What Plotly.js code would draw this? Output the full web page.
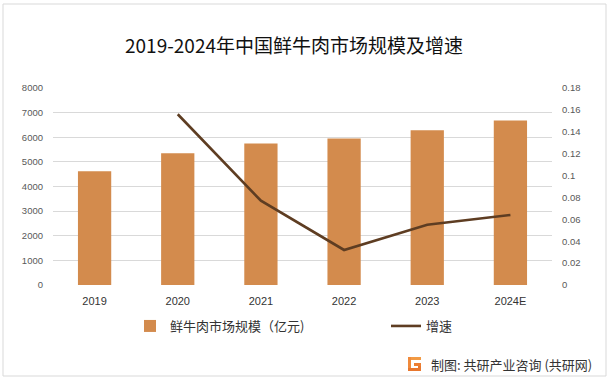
<!DOCTYPE html>
<html>
<head>
<meta charset="utf-8">
<script src="https://cdn.plot.ly/plotly-3.0.1.min.js"></script>
<style>html,body{margin:0;padding:0;background:#fff;}#chart{width:613px;height:386px;}</style>
</head>
<body>
<div id="chart"></div>
<script>
// ---- data ----
var years = ['2019', '2020', '2021', '2022', '2023', '2024E'];
var marketSize = [4620, 5350, 5750, 5950, 6280, 6680];
var growthRate = [null, 0.156, 0.077, 0.032, 0.055, 0.064];
var leftTicks = [0, 1000, 2000, 3000, 4000, 5000, 6000, 7000, 8000];
var rightTicks = [0, 0.02, 0.04, 0.06, 0.08, 0.1, 0.12, 0.14, 0.16, 0.18];
var rightTickLabels = ['0', '0.02', '0.04', '0.06', '0.08', '0.1', '0.12', '0.14', '0.16', '0.18'];
var barName = '鲜牛肉市场规模（亿元)';
var lineName = '增速';
var titleText = '2019-2024年中国鲜牛肉市场规模及增速';
var sourceText = '制图: 共研产业咨询 (共研网)';

// ---- layout helpers (pixel -> paper) ----
var L = 53, R = 552, T = 88, B = 285;
function px(x) { return (x - L) / (R - L); }
function py(y) { return (B - y) / (B - T); }

var cjk = '"Noto Sans CJK SC", "Noto Sans", sans-serif';
var tickFont = '"Liberation Sans", Arial, sans-serif';

var traces = [
  {
    type: 'bar', x: years, y: marketSize, name: barName,
    marker: {color: '#D38B4D'}, yaxis: 'y', legendwidth: 211
  },
  {
    type: 'scatter', mode: 'lines', x: years, y: growthRate, name: lineName,
    line: {color: '#5E3D22', width: 2.6}, yaxis: 'y2', connectgaps: false, legendwidth: 30
  }
];

var G = '#E8772E';
var shapes = [
  {type: 'rect', xref: 'paper', yref: 'paper', x0: px(3), x1: px(606), y0: py(4), y1: py(376),
   line: {color: '#D9D9D9', width: 1}, fillcolor: 'rgba(0,0,0,0)', layer: 'below'},
  // logo "G"
  {type: 'rect', xref: 'paper', yref: 'paper', x0: px(408), x1: px(421), y0: py(357), y1: py(360), line: {width: 0}, fillcolor: '#F29A44'},
  {type: 'rect', xref: 'paper', yref: 'paper', x0: px(408), x1: px(411), y0: py(357), y1: py(371), line: {width: 0}, fillcolor: '#F08A3C'},
  {type: 'rect', xref: 'paper', yref: 'paper', x0: px(408), x1: px(421), y0: py(368), y1: py(371), line: {width: 0}, fillcolor: G},
  {type: 'rect', xref: 'paper', yref: 'paper', x0: px(418), x1: px(421), y0: py(363), y1: py(371), line: {width: 0}, fillcolor: G},
  {type: 'rect', xref: 'paper', yref: 'paper', x0: px(414), x1: px(421), y0: py(363), y1: py(366), line: {width: 0}, fillcolor: '#EC7F34'}
];

var layout = {
  width: 613, height: 386,
  margin: {l: L, r: 613 - R, t: T, b: 386 - B, pad: 0},
  paper_bgcolor: '#ffffff', plot_bgcolor: '#ffffff',
  showlegend: true,
  title: {
    text: titleText, font: {family: cjk, size: 19, color: '#111111'},
    x: 294 / 613, xref: 'container', xanchor: 'center',
    y: 1 - 46.5 / 386, yref: 'container', yanchor: 'middle'
  },
  bargap: 0.6,
  xaxis: {
    type: 'category', showgrid: false, zeroline: false, showline: false,
    ticks: '', tickfont: {family: tickFont, size: 11, color: '#333333'},
    ticklabelstandoff: 8
  },
  yaxis: {
    range: [0, 8000], tickvals: leftTicks, showgrid: true, gridcolor: '#D9D9D9', gridwidth: 1,
    zeroline: false, showline: false, ticks: '',
    tickfont: {family: tickFont, size: 9.5, color: '#595959'}, ticklabelstandoff: 9
  },
  yaxis2: {
    overlaying: 'y', side: 'right', range: [0, 0.18], tickvals: rightTicks, ticktext: rightTickLabels,
    showgrid: false, zeroline: false, showline: false, ticks: '',
    tickfont: {family: tickFont, size: 9.5, color: '#595959'}, ticklabelstandoff: 9
  },
  legend: {
    orientation: 'h', x: px(130), xanchor: 'left', y: py(326), yanchor: 'middle',
    font: {family: cjk, size: 13, color: '#333333'},
    bgcolor: 'rgba(0,0,0,0)', borderwidth: 0
  },
  annotations: [
    {text: sourceText, xref: 'paper', yref: 'paper', x: px(429), y: py(364), xanchor: 'left', yanchor: 'middle',
     showarrow: false, font: {family: cjk, size: 13, color: '#333333'}}
  ],
  shapes: shapes
};

Plotly.newPlot('chart', traces, layout, {displayModeBar: false, staticPlot: true});
</script>
</body>
</html>
